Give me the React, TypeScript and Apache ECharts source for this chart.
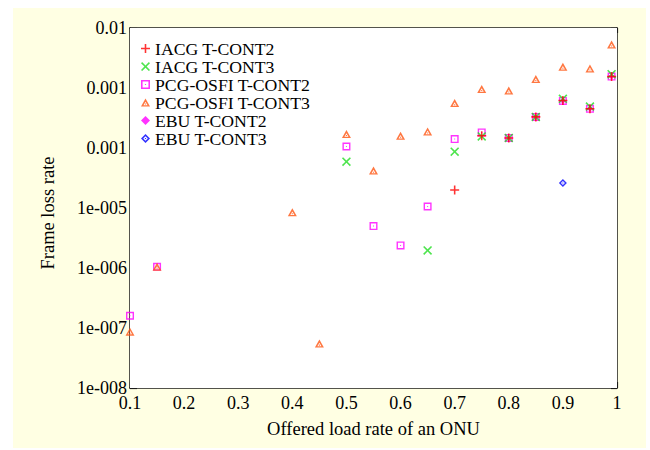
import React, { useEffect, useRef } from "react";
import * as echarts from "echarts";

// ---- data ----
const seriesNames = [
  "IACG T-CONT2",
  "IACG T-CONT3",
  "PCG-OSFI T-CONT2",
  "PCG-OSFI T-CONT3",
  "EBU T-CONT2",
  "EBU T-CONT3",
];

const iacg2X = [0.7, 0.75, 0.8, 0.85, 0.9, 0.95, 0.99];
const iacg2Y = [2.0e-5, 1.6e-4, 1.47e-4, 3.3e-4, 6.2e-4, 4.5e-4, 1.56e-3];

const iacg3X = [0.5, 0.65, 0.7, 0.75, 0.8, 0.85, 0.9, 0.95, 0.99];
const iacg3Y = [5.9e-5, 1.96e-6, 8.7e-5, 1.56e-4, 1.47e-4, 3.3e-4, 6.6e-4, 4.9e-4, 1.7e-3];

const pcg2X = [0.1, 0.15, 0.5, 0.55, 0.6, 0.65, 0.7, 0.75, 0.8, 0.85, 0.9, 0.95, 0.99];
const pcg2Y = [1.6e-7, 1.05e-6, 1.06e-4, 5.0e-6, 2.38e-6, 1.06e-5, 1.41e-4, 1.82e-4, 1.47e-4, 3.3e-4, 6.1e-4, 4.5e-4, 1.55e-3];

const pcg3X = [0.1, 0.15, 0.4, 0.45, 0.5, 0.55, 0.6, 0.65, 0.7, 0.75, 0.8, 0.85, 0.9, 0.95, 0.99];
const pcg3Y = [8.7e-8, 1.05e-6, 8.5e-6, 5.5e-8, 1.71e-4, 4.2e-5, 1.6e-4, 1.89e-4, 5.6e-4, 9.6e-4, 9.1e-4, 1.41e-3, 2.26e-3, 2.12e-3, 5.3e-3];

const ebu2X = [0.8, 0.85, 0.9, 0.95, 0.99];
const ebu2Y = [1.47e-4, 3.3e-4, 6.1e-4, 4.5e-4, 1.55e-3];

const ebu3X = [0.9];
const ebu3Y = [2.61e-5];

const yTickLabels = ["1e-008", "1e-007", "1e-006", "1e-005", "0.001", "0.001", "0.01"];
const yMinExp = -8;
const yMaxExp = -2;
const minorMantissas = [2, 5];

const xName = "Offered load rate of an ONU";
const yName = "Frame loss rate";

// ---- symbols ----
const plusPath = "path://M3.3,0 H4.7 V3.3 H8 V4.7 H4.7 V8 H3.3 V4.7 H0 V3.3 H3.3 Z";
const crossPath =
  "path://M0,1 L1,0 L4,3 L7,0 L8,1 L5,4 L8,7 L7,8 L4,5 L1,8 L0,7 L3,4 Z";
const squareDotPath =
  "path://M0,0 H8 V8 H0 Z M1.4,1.4 V6.6 H6.6 V1.4 Z M3.5,3.5 H4.5 V4.5 H3.5 Z";
const triangleDotPath =
  "path://M4,0 L8,7 L0,7 Z M4,2.8 L2.2,5.9 L5.8,5.9 Z M3.5,4.4 H4.5 V5.3 H3.5 Z";
const diamondDotPath =
  "path://M4,0 L8,4 L4,8 L0,4 Z M4,2 L2,4 L4,6 L6,4 Z M3.5,3.5 H4.5 V4.5 H3.5 Z";

const FONT = "Liberation Serif";
const TEXT = "#000000";
const AXIS = "#1a1a1a";

function pairs(xs: number[], ys: number[]) {
  return xs.map((x, i) => [x, ys[i]]);
}

export default function App() {
  const ref = useRef<HTMLDivElement>(null);

  useEffect(() => {
    if (!ref.current) return;
    const chart = echarts.init(ref.current, undefined, { renderer: "svg" });

    const minorTicks: number[] = [];
    for (let e = yMinExp; e < yMaxExp; e++) {
      for (const m of minorMantissas) minorTicks.push(e + Math.log10(m));
    }

    const tickLabelStyle = { fontFamily: FONT, fontSize: 18, color: TEXT };

    const option: any = {
      animation: false,
      backgroundColor: "#ffffff",
      textStyle: { fontFamily: FONT },
      graphic: [
        {
          type: "rect",
          z: -10,
          silent: true,
          shape: { x: 13, y: 8, width: 633, height: 440 },
          style: { fill: "#FFFFE3" },
        },
      ],
      grid: {
        left: 130,
        top: 28,
        width: 487,
        height: 360,
        show: true,
        backgroundColor: "#ffffff",
        borderWidth: 0,
        z: 1,
      },
      legend: {
        orient: "vertical",
        left: 141,
        top: 39.5,
        padding: 0,
        itemGap: 0,
        itemWidth: 9,
        itemHeight: 9,
        data: seriesNames,
        textStyle: { fontFamily: FONT, fontSize: 17.7, lineHeight: 17.7, color: TEXT },
      },
      xAxis: [
        {
          type: "value",
          min: 0.1,
          max: 1,
          interval: 0.1,
          position: "bottom",
          name: xName,
          nameLocation: "middle",
          nameGap: 31,
          nameTextStyle: { fontFamily: FONT, fontSize: 18.5, color: TEXT },
          axisLine: { show: true, lineStyle: { color: AXIS, width: 1.5 } },
          axisTick: { show: true, inside: true, length: 6, lineStyle: { color: AXIS, width: 1.2 } },
          axisLabel: {
            ...tickLabelStyle,
            margin: 6,
            formatter: (v: number) => String(Math.round(v * 10) / 10),
          },
          splitLine: { show: false },
        },
        {
          type: "value",
          min: 0.1,
          max: 1,
          interval: 0.1,
          position: "top",
          axisLine: { show: true, lineStyle: { color: AXIS, width: 1.5 } },
          axisTick: { show: true, inside: true, length: 5, lineStyle: { color: AXIS, width: 1.2 } },
          axisLabel: { show: false },
          splitLine: { show: false },
        },
      ],
      yAxis: [
        {
          type: "log",
          logBase: 10,
          min: Math.pow(10, yMinExp),
          max: Math.pow(10, yMaxExp),
          splitNumber: 6,
          position: "left",
          name: yName,
          nameLocation: "middle",
          nameGap: 73,
          nameRotate: 90,
          nameTextStyle: { fontFamily: FONT, fontSize: 18.5, color: TEXT, padding: [0, 10, 0, 0] },
          axisLine: { show: true, lineStyle: { color: AXIS, width: 1.5 } },
          axisTick: { show: true, inside: true, length: 7, lineStyle: { color: AXIS, width: 1.2 } },
          axisLabel: {
            ...tickLabelStyle,
            margin: 3,
            padding: [7, 0, 0, 0],
            formatter: (v: number) => {
              const idx = Math.round(Math.log10(v)) - yMinExp;
              return yTickLabels[idx] ?? "";
            },
          },
          splitLine: { show: false },
        },
        {
          type: "value",
          min: yMinExp,
          max: yMaxExp,
          position: "left",
          axisLine: { show: false },
          axisTick: {
            show: true,
            inside: true,
            length: 4,
            customValues: minorTicks,
            lineStyle: { color: AXIS, width: 1.2 },
          },
          axisLabel: { show: false },
          splitLine: { show: false },
        },
        {
          type: "log",
          logBase: 10,
          min: Math.pow(10, yMinExp),
          max: Math.pow(10, yMaxExp),
          splitNumber: 6,
          position: "right",
          axisLine: { show: true, lineStyle: { color: AXIS, width: 1.5 } },
          axisTick: { show: true, inside: true, length: 6, lineStyle: { color: AXIS, width: 1.2 } },
          axisLabel: { show: false },
          splitLine: { show: false },
        },
        {
          type: "value",
          min: yMinExp,
          max: yMaxExp,
          position: "right",
          axisLine: { show: false },
          axisTick: {
            show: true,
            inside: true,
            length: 4,
            customValues: minorTicks,
            lineStyle: { color: AXIS, width: 1.2 },
          },
          axisLabel: { show: false },
          splitLine: { show: false },
        },
      ],
      series: [
        {
          name: seriesNames[2],
          type: "scatter",
          symbol: squareDotPath,
          symbolSize: 8,
          itemStyle: { color: "#FF00FF" },
          data: pairs(pcg2X, pcg2Y),
          z: 2,
        },
        {
          name: seriesNames[3],
          type: "scatter",
          symbol: triangleDotPath,
          symbolSize: [9, 8],
          itemStyle: { color: "#FF5511" },
          data: pairs(pcg3X, pcg3Y),
          z: 2,
        },
        {
          name: seriesNames[4],
          type: "scatter",
          symbol: "diamond",
          symbolSize: 6,
          itemStyle: { color: "#FF00FF" },
          data: pairs(ebu2X, ebu2Y),
          z: 3,
        },
        {
          name: seriesNames[5],
          type: "scatter",
          symbol: diamondDotPath,
          symbolSize: 8,
          itemStyle: { color: "#0000FF" },
          data: pairs(ebu3X, ebu3Y),
          z: 3,
        },
        {
          name: seriesNames[1],
          type: "scatter",
          symbol: crossPath,
          symbolSize: 9,
          itemStyle: { color: "#22DD22" },
          data: pairs(iacg3X, iacg3Y),
          z: 4,
        },
        {
          name: seriesNames[0],
          type: "scatter",
          symbol: plusPath,
          symbolSize: 9,
          itemStyle: { color: "#FF0000" },
          data: pairs(iacg2X, iacg2Y),
          z: 5,
        },
      ],
    };

    chart.setOption(option);
    return () => chart.dispose();
  }, []);

  return (
    <div
      ref={ref}
      style={{ position: "fixed", left: 0, top: 0, width: 650, height: 450 }}
    />
  );
}
